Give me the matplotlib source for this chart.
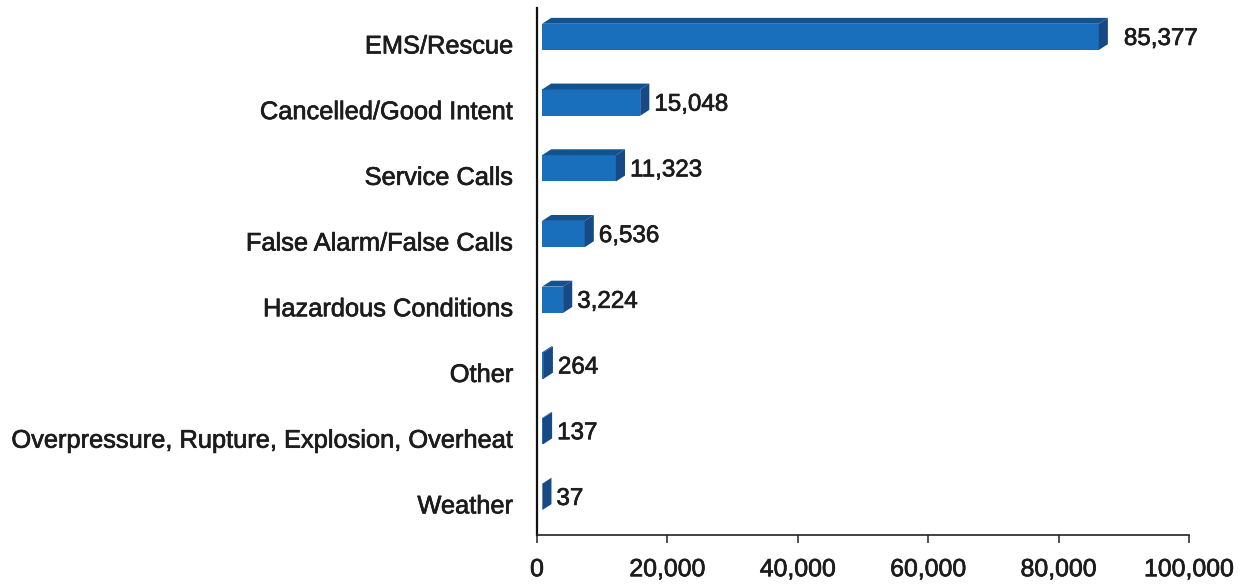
import matplotlib
matplotlib.use('Agg')
import matplotlib.pyplot as plt
import matplotlib.patheffects as pe
from matplotlib.transforms import ScaledTranslation

plt.rcParams['font.family'] = ['Liberation Sans', 'DejaVu Sans']

categories = ['EMS/Rescue', 'Cancelled/Good Intent', 'Service Calls',
              'False Alarm/False Calls', 'Hazardous Conditions', 'Other',
              'Overpressure, Rupture, Explosion, Overheat', 'Weather']
values = [85377, 15048, 11323, 6536, 3224, 264, 137, 37]
x_ticks = [0, 20000, 40000, 60000, 80000, 100000]

W, H = 1242, 585
FRONT = '#1a6fbd'
TOP = '#12528f'
SIDE = '#174a85'
TEXT = '#1c1c1c'
HEAVY = [pe.withStroke(linewidth=0.5, foreground=TEXT)]


def main():
    fig = plt.figure(figsize=(W / 100, H / 100), dpi=100)
    ax = fig.add_axes([537 / W, (H - 535) / H, (1189 - 537) / W, (535 - 8) / H])
    ax.set_xlim(0, 100000)
    ax.set_ylim(7.58, -0.44)

    # fake 3d bars: offset from the axis plus a depth in data units
    start = 780
    dx = 1400
    dy = 0.09
    half = 0.2
    for i, val in enumerate(values):
        end = start + val
        ax.barh(i, val, left=start, height=half * 2, color=FRONT, zorder=2)
        ax.fill([start, start + dx, end + dx, end],
                [i - half, i - half - dy, i - half - dy, i - half],
                color=TOP, lw=0, zorder=2)
        ax.fill([end, end + dx, end + dx, end],
                [i - half, i - half - dy, i + half - dy, i + half],
                color=SIDE, lw=0, zorder=3)
        gap = 16 if i == 0 else 5
        ax.annotate(f'{val:,}', (end + dx, i - dy / 2), xytext=(gap * 0.72, -3.6),
                    textcoords='offset points', va='center', ha='left',
                    fontsize=17.4, color=TEXT, path_effects=HEAVY)

    for side in ['top', 'right']:
        ax.spines[side].set_visible(False)
    ax.spines['left'].set_linewidth(1.6)
    ax.spines['left'].set_color('#111111')
    ax.spines['bottom'].set_linewidth(1.2)
    ax.spines['bottom'].set_color('#222222')

    ax.set_yticks(range(len(categories)))
    ax.set_yticklabels(categories, fontsize=18.3, color=TEXT, path_effects=HEAVY)
    ax.tick_params(axis='y', length=0, pad=17)
    # scanned original sits a little low against its bars
    shift = ScaledTranslation(0, -7 / 100, fig.dpi_scale_trans)
    for label in ax.get_yticklabels():
        label.set_transform(label.get_transform() + shift)

    ax.set_xticks(x_ticks)
    ax.set_xticklabels([f'{t:,}' for t in x_ticks], fontsize=17.9, color=TEXT,
                       path_effects=HEAVY)
    ax.tick_params(axis='x', length=6, width=1.1, pad=10, color='#222222')

    fig.savefig('out.png', dpi=100)


if __name__ == '__main__':
    main()
